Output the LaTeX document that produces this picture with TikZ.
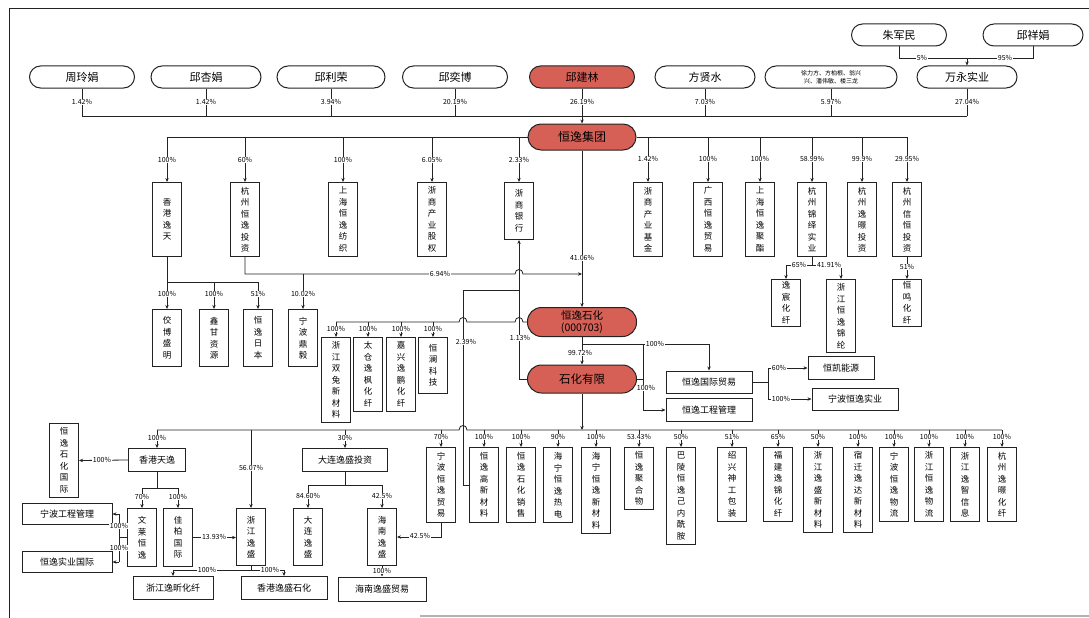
\documentclass[tikz,border=0pt]{standalone}
\usepackage{fontspec}
\setmainfont{Noto Sans CJK SC}
\usetikzlibrary{arrows.meta,calc}
\definecolor{redfill}{RGB}{214,96,86}
\definecolor{lineC}{RGB}{35,35,35}
\begin{document}
\begin{tikzpicture}[x=1pt,y=-1pt,
  every node/.style={inner sep=0pt},
  ln/.style={draw=lineC,line width=0.8pt},
  arr/.style={ln,-{Stealth[length=4pt,width=3.4pt]}},
  person/.style={draw=lineC,line width=1pt,rounded corners=11pt,minimum height=22pt,font=\fontsize{11}{13}\selectfont},
  redp/.style={person,fill=redfill},
  vbox/.style={draw=lineC,line width=1pt,minimum width=29pt,anchor=north,align=center,font=\fontsize{8.5}{11.5}\selectfont},
  hbox/.style={draw=lineC,line width=1pt,minimum height=23pt,font=\fontsize{9}{11}\selectfont},
  pct/.style={font=\fontsize{7}{8}\selectfont,fill=white,inner sep=0.6pt},
]
\useasboundingbox (0,0) rectangle (1089,618);
% frame
\draw[lineC,line width=1pt] (9,618) -- (9,9) -- (1089,9);
\draw[gray!60,line width=1.5pt] (420,616) -- (1089,616);

% ---------- top shareholders ----------
\node[person,minimum width=105pt] (zlj) at (82,77) {周玲娟};
\node[person,minimum width=110pt] (qxj) at (206,77) {邱杏娟};
\node[person,minimum width=108pt] (qlr) at (331,77) {邱利荣};
\node[person,minimum width=105pt] (qyb) at (455,77) {邱奕博};
\node[redp,minimum width=105pt] (qjl) at (582,77) {邱建林};
\node[person,minimum width=100pt] (fxs) at (705,77) {方贤水};
\node[person,minimum width=132pt,align=center,font=\fontsize{6}{7.5}\selectfont] (xlf) at (831,77) {徐力方、方柏根、翁兴\\兴、潘伟敏、楼三龙};
\node[person,minimum width=100pt] (wysy) at (967,77) {万永实业};
\node[person,minimum width=95pt] (zjm) at (899,35) {朱军民};
\node[person,minimum width=100pt] (qxj2) at (1033,35) {邱祥娟};

\coordinate (topbus) at (0,116);
\foreach \n in {zlj,qxj,qlr,qyb,qjl,fxs,xlf,wysy}
  \draw[ln] (\n.south) -- (\n.south |- topbus);
\draw[ln] (zlj.south |- topbus) -- (wysy.south |- topbus);
\node[pct] at (82,102) {1.42\%};
\node[pct] at (206,102) {1.42\%};
\node[pct] at (331,102) {3.94\%};
\node[pct] at (455,102) {20.19\%};
\node[pct] at (582,102) {26.19\%};
\node[pct] at (705,102) {7.03\%};
\node[pct] at (831,102) {5.97\%};
\node[pct] at (967,102) {27.04\%};

\coordinate (wyb) at (0,58);
\draw[ln] (zjm.south) -- (zjm.south |- wyb) -- (qxj2.south |- wyb) -- (qxj2.south);
\draw[arr] (wysy.north |- wyb) -- (wysy.north);
\node[pct] at (922,58) {5\%};
\node[pct] at (1005,58) {95\%};

% ---------- group ----------
\node[redp,minimum width=108pt,minimum height=26pt,rounded corners=13pt,font=\fontsize{12}{14}\selectfont] (hyjt) at (582,137) {恒逸集团};
\draw[arr] (qjl.south |- topbus) -- (hyjt.north);

\node[vbox,minimum height=74pt] (L1) at (167,182) {香\\港\\逸\\天};
\node[vbox,minimum height=74pt] (L2) at (245,182) {杭\\州\\恒\\逸\\投\\资};
\node[vbox,minimum height=74pt] (L3) at (343,182) {上\\海\\恒\\逸\\纺\\织};
\node[vbox,minimum height=74pt] (L4) at (432,182) {浙\\商\\产\\业\\股\\权};
\node[vbox,minimum height=57pt] (L5) at (519,182) {浙\\商\\银\\行};
\node[vbox,minimum height=74pt] (R1) at (648,182) {浙\\商\\产\\业\\基\\金};
\node[vbox,minimum height=74pt] (R2) at (708,182) {广\\西\\恒\\逸\\贸\\易};
\node[vbox,minimum height=74pt] (R3) at (760,182) {上\\海\\恒\\逸\\聚\\酯};
\node[vbox,minimum height=74pt] (R4) at (812,182) {杭\\州\\锦\\绎\\实\\业};
\node[vbox,minimum height=74pt] (R5) at (862,182) {杭\\州\\逸\\暻\\投\\资};
\node[vbox,minimum height=74pt] (R6) at (907,182) {杭\\州\\信\\恒\\投\\资};

\coordinate (gb) at (0,137);
\draw[ln] (hyjt.west) -- (L1.north |- gb);
\draw[ln] (hyjt.east) -- (R6.north |- gb);
\foreach \n in {L1,L2,L3,L4,L5,R1,R2,R3,R4,R5,R6}
  \draw[arr] (\n.north |- gb) -- (\n.north);
\node[pct] at (167,160) {100\%};
\node[pct] at (245,160) {60\%};
\node[pct] at (343,160) {100\%};
\node[pct] at (432,160) {6.05\%};
\node[pct] at (519,160) {2.33\%};
\node[pct] at (648,159) {1.42\%};
\node[pct] at (708,159) {100\%};
\node[pct] at (760,159) {100\%};
\node[pct] at (812,159) {58.99\%};
\node[pct] at (862,159) {99.9\%};
\node[pct] at (907,159) {29.95\%};

% under 香港逸天
\node[vbox,minimum height=57pt] (M1) at (167,309) {佼\\博\\盛\\明};
\node[vbox,minimum height=57pt] (M2) at (214,309) {鑫\\甘\\资\\源};
\node[vbox,minimum height=57pt] (M3) at (258,309) {恒\\逸\\日\\本};
\node[vbox,minimum height=57pt] (M4) at (303,309) {宁\\波\\鼎\\毅};
\coordinate (b1) at (0,282);
\draw[ln] (L1.south) -- (L1.south |- b1) -- (M3.north |- b1);
\foreach \n in {M1,M2,M3} \draw[arr] (\n.north |- b1) -- (\n.north);
\node[pct] at (167,294) {100\%};
\node[pct] at (214,294) {100\%};
\node[pct] at (258,294) {51\%};

% 6.94% line
\coordinate (b2) at (0,274);
\draw[arr] (L2.south) -- (L2.south |- b2) -- (515,274) .. controls (515,268) and (523,268) .. (523,274) -- (hyjt.south |- b2);
\draw[arr] (M4.north |- b2) -- (M4.north);
\node[pct] at (440,274) {6.94\%};
\node[pct] at (303,294) {10.02\%};

% ---------- listed company ----------
\node[redp,minimum width=109pt,minimum height=29pt,rounded corners=14pt,align=center,font=\fontsize{10.5}{12.5}\selectfont] (hysh) at (582,322) {恒逸石化\\(000703)};
\node[redp,minimum width=109pt,minimum height=28pt,rounded corners=14pt,font=\fontsize{11.5}{13}\selectfont] (shyx) at (582,379) {石化有限};
\draw[arr] (hyjt.south) -- (hysh.north);
\node[pct] at (582,258) {41.06\%};
\draw[arr] (hysh.south) -- (shyx.north);
\node[pct] at (580,353) {99.72\%};

% four boxes left of 恒逸石化
\node[vbox,minimum height=85pt] (N1) at (336,337) {浙\\江\\双\\兔\\新\\材\\料};
\node[vbox,minimum height=74pt] (N2) at (368,337) {太\\仓\\逸\\枫\\化\\纤};
\node[vbox,minimum height=74pt] (N3) at (401,337) {嘉\\兴\\逸\\鹏\\化\\纤};
\node[vbox,minimum height=56pt] (N4) at (433,337) {恒\\澜\\科\\技};
\coordinate (b3) at (0,322);
\draw[ln] (hysh.west) -- (523,322) .. controls (523,316) and (515,316) .. (515,322) -- (467,322) .. controls (467,316) and (459,316) .. (459,322) -- (N1.north |- b3);
\foreach \n in {N1,N2,N3,N4} \draw[arr] (\n.north |- b3) -- (\n.north);
\foreach \n in {N1,N2,N3,N4} \node[pct] at ($(\n.north)+(0,-8)$) {100\%};

% 1.13% and 2.39%
\draw[arr] (shyx.west) -| (L5.south);
\node[pct] at (520,338) {1.13\%};

% ---------- bus under 石化有限 ----------
\node[hbox,minimum width=57pt] (B1) at (157,460) {香港天逸};
\node[vbox,minimum height=57pt] (B2) at (251,508) {浙\\江\\逸\\盛};
\node[hbox,minimum width=85pt] (B3) at (345,460) {大连逸盛投资};
\node[vbox,minimum height=75pt] (G0) at (441,447) {宁\\波\\恒\\逸\\贸\\易};
\node[vbox,minimum height=75pt] (G1) at (484,447) {恒\\逸\\高\\新\\材\\料};
\node[vbox,minimum height=75pt] (G2) at (521,447) {恒\\逸\\石\\化\\销\\售};
\node[vbox,minimum height=75pt] (G3) at (558,447) {海\\宁\\恒\\逸\\热\\电};
\node[vbox,minimum height=86pt] (G4) at (596,447) {海\\宁\\恒\\逸\\新\\材\\料};
\node[vbox,minimum height=62pt] (G5) at (639,447) {恒\\逸\\聚\\合\\物};
\node[vbox,minimum height=97pt] (G6) at (681,447) {巴\\陵\\恒\\逸\\己\\内\\酰\\胺};
\node[vbox,minimum height=74pt] (G7) at (732,447) {绍\\兴\\神\\工\\包\\装};
\node[vbox,minimum height=74pt] (G8) at (778,447) {福\\建\\逸\\锦\\化\\纤};
\node[vbox,minimum height=85pt] (G9) at (818,447) {浙\\江\\逸\\盛\\新\\材\\料};
\node[vbox,minimum height=85pt] (G10) at (858,447) {宿\\迁\\逸\\达\\新\\材\\料};
\node[vbox,minimum height=74pt] (G11) at (894,447) {宁\\波\\恒\\逸\\物\\流};
\node[vbox,minimum height=74pt] (G12) at (929,447) {浙\\江\\恒\\逸\\物\\流};
\node[vbox,minimum height=74pt] (G13) at (965,447) {浙\\江\\逸\\智\\信\\息};
\node[vbox,minimum height=74pt] (G14) at (1002,447) {杭\\州\\逸\\暻\\化\\纤};

\coordinate (bus) at (0,430);
\draw[arr] (shyx.south) -- (shyx.south |- bus);
\draw[ln] (B1.north |- bus) -- (459,430) .. controls (459,424) and (467,424) .. (467,430) -- (G14.north |- bus);
\foreach \n in {B1,B2,B3,G0,G1,G2,G3,G4,G5,G6,G7,G8,G9,G10,G11,G12,G13,G14}
  \draw[arr] (\n.north |- bus) -- (\n.north);
\node[pct] at (157,438) {100\%};
\node[pct] at (251,468) {56.07\%};
\node[pct] at (345,438) {30\%};
\node[pct] at (441,437) {70\%};
\node[pct] at (484,437) {100\%};
\node[pct] at (521,437) {100\%};
\node[pct] at (558,437) {90\%};
\node[pct] at (596,437) {100\%};
\node[pct] at (639,437) {53.43\%};
\node[pct] at (681,437) {50\%};
\node[pct] at (732,437) {51\%};
\node[pct] at (778,437) {65\%};
\node[pct] at (818,437) {50\%};
\node[pct] at (858,437) {100\%};
\node[pct] at (894,437) {100\%};
\node[pct] at (929,437) {100\%};
\node[pct] at (965,437) {100\%};
\node[pct] at (1002,437) {100\%};

% 2.39% link
\coordinate (k) at (463,290);
\draw[ln] (G1.west) -| (k) -- (L5.south |- k);
\node[pct] at (466,342) {2.39\%};

% ---------- left subtree ----------
\node[vbox,minimum height=74pt] (C0) at (64,423) {恒\\逸\\石\\化\\国\\际};
\draw[arr] (B1.west) -- (C0.east);
\node[pct] at (102,460) {100\%};
\node[vbox,minimum height=58pt] (C1) at (142,508) {文\\莱\\恒\\逸};
\node[vbox,minimum height=58pt] (C2) at (178,508) {佳\\柏\\国\\际};
\coordinate (b4) at (0,488);
\draw[ln] (B1.south) -- (B1.south |- b4);
\draw[ln] (C1.north |- b4) -- (C2.north |- b4);
\draw[arr] (C1.north |- b4) -- (C1.north);
\draw[arr] (C2.north |- b4) -- (C2.north);
\node[pct] at (142,497) {70\%};
\node[pct] at (178,497) {100\%};

\node[hbox,minimum width=90pt,minimum height=21pt] (D1) at (67,514) {宁波工程管理};
\node[hbox,minimum width=90pt,minimum height=21pt] (D2) at (67,562) {恒逸实业国际};
\coordinate (b5) at (119,0);
\draw[ln] (C1.west) -- (C1.west -| b5);
\draw[ln] (D1.east -| b5) -- (D2.east -| b5);
\draw[arr] (D1.east -| b5) -- (D1.east);
\draw[arr] (D2.east -| b5) -- (D2.east);
\node[pct] at (119,526) {100\%};
\node[pct] at (119,548) {100\%};

\draw[arr] (C2.east) -- (B2.west |- C2.east);
\node[pct] at (214,537) {13.93\%};

\node[hbox,minimum width=80pt] (E1) at (173,588) {浙江逸昕化纤};
\node[hbox,minimum width=86pt] (E2) at (284,588) {香港逸盛石化};
\coordinate (b6) at (0,570);
\draw[ln] (B2.south) -- (B2.south |- b6);
\draw[ln] (E1.north |- b6) -- (E2.north |- b6);
\draw[arr] (E1.north |- b6) -- (E1.north);
\draw[arr] (E2.north |- b6) -- (E2.north);
\node[pct] at (207,570) {100\%};
\node[pct] at (270,570) {100\%};

\node[vbox,minimum height=57pt] (F1) at (308,508) {大\\连\\逸\\盛};
\node[vbox,minimum height=57pt] (F2) at (382,508) {海\\南\\逸\\盛};
\node[hbox,minimum width=88pt,minimum height=24pt] (F3) at (382,589) {海南逸盛贸易};
\coordinate (b7) at (0,485);
\draw[ln] (B3.south) -- (B3.south |- b7);
\draw[ln] (F1.north |- b7) -- (F2.north |- b7);
\draw[arr] (F1.north |- b7) -- (F1.north);
\draw[arr] (F2.north |- b7) -- (F2.north);
\node[pct] at (308,496) {84.60\%};
\node[pct] at (382,496) {42.5\%};
\draw[arr] (F2.south) -- (F3.north);
\node[pct] at (382,571) {100\%};
\draw[arr] (G0.south) |- (F2.east);
\node[pct] at (420,536) {42.5\%};

% ---------- right middle ----------
\node[hbox,minimum width=86pt,minimum height=22pt] (H1) at (709,382) {恒逸国际贸易};
\node[hbox,minimum width=86pt] (H2) at (709,410) {恒逸工程管理};
\coordinate (b8) at (0,344);
\draw[arr] (hysh.south |- b8) -| (H1.north);
\node[pct] at (655,344) {100\%};
\coordinate (b9) at (643,0);
\draw[arr] (b9 |- b8) |- (H2.west);
\draw[ln] (shyx.east) -- (shyx.east -| b9);
\node[pct] at (646,388) {100\%};

\node[hbox,minimum width=66pt] (I1) at (841,368) {恒凯能源};
\node[hbox,minimum width=86pt,minimum height=22pt] (I2) at (855,399) {宁波恒逸实业};
\coordinate (b10) at (768,0);
\draw[ln] (H1.east) -- (H1.east -| b10);
\draw[ln] (b10 |- I1.west) -- (b10 |- I2.west);
\draw[arr] (b10 |- I1.west) -- (I1.west);
\draw[arr] (b10 |- I2.west) -- (I2.west);
\node[pct] at (779,368) {60\%};
\node[pct] at (781,399) {100\%};

% children of 杭州锦绎实业 and 杭州信恒投资
\node[vbox,minimum height=47pt] (J1) at (786,279) {逸\\宸\\化\\纤};
\node[vbox,minimum height=73pt] (J2) at (841,279) {浙\\江\\恒\\逸\\锦\\纶};
\node[vbox,minimum height=47pt] (J3) at (907,279) {恒\\鸣\\化\\纤};
\coordinate (b11) at (0,265);
\draw[ln] (R4.south) -- (R4.south |- b11);
\draw[ln] (J1.north |- b11) -- (J2.north |- b11);
\draw[arr] (J1.north |- b11) -- (J1.north);
\draw[arr] (J2.north |- b11) -- (J2.north);
\node[pct] at (799,265) {65\%};
\node[pct] at (829,265) {41.91\%};
\draw[arr] (R6.south) -- (J3.north);
\node[pct] at (907,267) {51\%};
\end{tikzpicture}
\end{document}
